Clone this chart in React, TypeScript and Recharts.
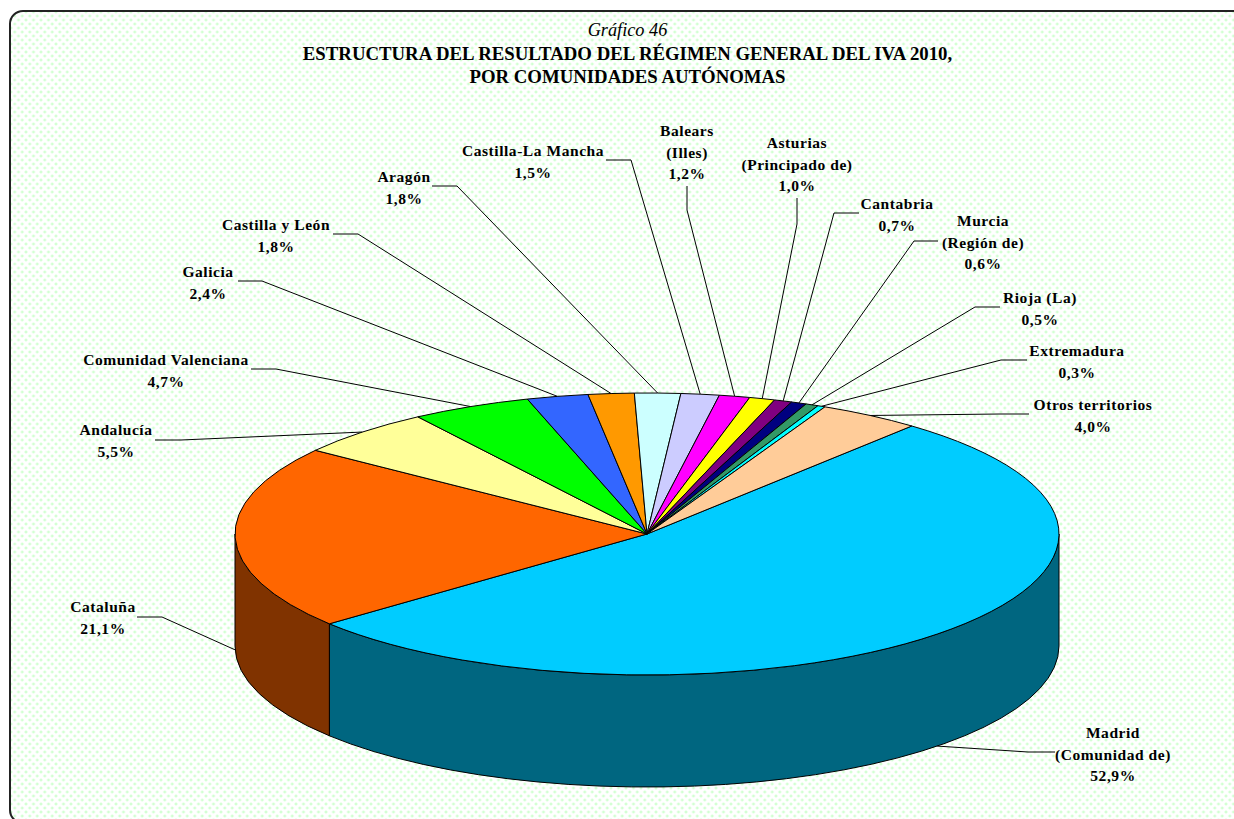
import React from 'react';
import { PieChart, Pie } from 'recharts';

const regions = [
  'Madrid', 'Cataluña', 'Andalucía', 'Comunidad Valenciana', 'Galicia', 'Castilla y León', 'Aragón',
  'Castilla-La Mancha', 'Baleares', 'Asturias', 'Cantabria', 'Murcia', 'Rioja', 'Extremadura', 'Otros territorios',
];
const shares = [52.9, 21.1, 5.5, 4.7, 2.4, 1.8, 1.8, 1.5, 1.2, 1.0, 0.7, 0.6, 0.5, 0.3, 4.0];
const labelTexts = [
  ['Madrid', '(Comunidad de)'], ['Cataluña'], ['Andalucía'], ['Comunidad Valenciana'], ['Galicia'], ['Castilla y León'],
  ['Aragón'], ['Castilla-La Mancha'], ['Balears', '(Illes)'], ['Asturias', '(Principado de)'], ['Cantabria'],
  ['Murcia', '(Región de)'], ['Rioja (La)'], ['Extremadura'], ['Otros territorios'],
];
const topColors = [
  '#00CCFF', '#FF6600', '#FFFF99', '#00FF00', '#3366FF', '#FF9900', '#CCFFFF', '#CCCCFF',
  '#FF00FF', '#FFFF00', '#800080', '#000080', '#339966', '#00FFFF', '#FFCC99',
];
const wallColors = ['#006680', '#803300'];

// label centre x, first line centre y, then the leader: start and elbow
const labelPlaces = [
  [1113, 733, 1055, 752, 1028, 752],
  [103, 607, 137, 617, 162, 617],
  [116, 430, 155, 440, 181, 440],
  [166, 360, 251, 369, 276, 369],
  [208, 272, 238, 281, 262, 281],
  [276, 225, 333, 234, 358, 234],
  [404, 177, 432, 186, 457, 186],
  [533, 151, 606, 160, 631, 160],
  [687, 131, 687, 186, 687, 210],
  [797, 143, 797, 198, 797, 224],
  [897, 204, 859, 213, 834, 213],
  [983, 221, 938, 241, 914, 241],
  [1040, 298, 1000, 307, 975, 307],
  [1077, 351, 1027, 360, 1001, 360],
  [1093, 405, 1029, 414, 1000, 414],
];

const pieData = regions.map((name, i) => ({ name, value: shares[i], fill: topColors[i] }));
const wallData = regions.map((name, i) => ({ name, value: shares[i], fill: wallColors[i] || '#888888' }));

const CX = 647;
const CY = 534;
const RX = 412;
const RY = 141;
const DEPTH = 112;
const START = 50;

const onEllipse = (angle: number, drop = 0) => {
  const rad = (angle * Math.PI) / 180;
  return { x: CX + RX * Math.cos(rad), y: CY - RY * Math.sin(rad) + drop };
};

// eslint-disable-next-line @typescript-eslint/no-explicit-any
const TopSlice = ({ startAngle, endAngle, fill }: any) => {
  const a = onEllipse(startAngle);
  const b = onEllipse(endAngle);
  const large = startAngle - endAngle > 180 ? 1 : 0;
  return (
    <path
      d={`M${CX},${CY} L${a.x},${a.y} A${RX},${RY} 0 ${large} 1 ${b.x},${b.y} Z`}
      fill={fill}
      stroke="#000"
      strokeWidth={1}
    />
  );
};

// only the front half of the cake shows a side
// eslint-disable-next-line @typescript-eslint/no-explicit-any
const WallSlice = ({ startAngle, endAngle, fill }: any) => {
  const hi = Math.min(startAngle, 0);
  const lo = Math.max(endAngle, -180);
  if (hi <= lo) return null;
  const a = onEllipse(hi);
  const b = onEllipse(lo);
  const c = onEllipse(lo, DEPTH);
  const d = onEllipse(hi, DEPTH);
  return (
    <path
      d={`M${a.x},${a.y} A${RX},${RY} 0 0 1 ${b.x},${b.y} L${c.x},${c.y} A${RX},${RY} 0 0 0 ${d.x},${d.y} Z`}
      fill={fill}
      stroke="#000"
      strokeWidth={1}
    />
  );
};

// eslint-disable-next-line @typescript-eslint/no-explicit-any
const SliceLabel = ({ index, midAngle, value }: any) => {
  const [tx, ty, x1, y1, x2, y2] = labelPlaces[index];
  const inFront = Math.sin((midAngle * Math.PI) / 180) < 0;
  const end = onEllipse(midAngle, inFront ? DEPTH : 0);
  const lines = [...labelTexts[index], `${value.toFixed(1).replace('.', ',')}%`];
  return (
    <g>
      <polyline points={`${x1},${y1} ${x2},${y2} ${end.x},${end.y}`} fill="none" stroke="#000" strokeWidth={1} />
      {lines.map((line, i) => (
        <text
          key={line}
          x={tx}
          y={ty + i * 21.5 + 5}
          textAnchor="middle"
          fill="#000"
          style={{ fontFamily: '"Liberation Serif", serif', fontSize: 15.5, fontWeight: 700, letterSpacing: 0.55 }}
        >
          {line}
        </text>
      ))}
    </g>
  );
};

export default function App() {
  return (
    <div style={{ position: 'fixed', left: 0, top: 0, width: 1234, height: 819, overflow: 'hidden', background: '#fff' }}>
      <div
        style={{
          position: 'absolute',
          left: 9,
          top: 10,
          width: 1260,
          height: 814,
          boxSizing: 'border-box',
          border: '2px solid #222',
          borderRadius: 14,
          backgroundColor: '#fff',
          backgroundImage:
            'radial-gradient(circle, #d2ffd2 0.9px, transparent 1.9px), radial-gradient(circle, #d2ffd2 0.9px, transparent 1.9px)',
          backgroundSize: '7.5px 8px',
          backgroundPosition: '0 0, 3.75px 4px',
        }}
      />
      <div
        style={{
          position: 'absolute',
          left: 0,
          top: 18,
          width: 1255,
          textAlign: 'center',
          fontFamily: '"Liberation Serif", serif',
          color: '#000',
        }}
      >
        <div style={{ fontStyle: 'italic', fontSize: 18.3, lineHeight: '24px' }}>Gráfico 46</div>
        <div style={{ fontWeight: 700, fontSize: 18.8, lineHeight: '23px' }}>
          ESTRUCTURA DEL RESULTADO DEL RÉGIMEN GENERAL DEL IVA 2010,
        </div>
        <div style={{ fontWeight: 700, fontSize: 18.8, lineHeight: '23px' }}>POR COMUNIDADES AUTÓNOMAS</div>
      </div>
      <div style={{ position: 'absolute', left: 0, top: 0 }}>
        <PieChart width={1234} height={819} margin={{ top: 0, right: 0, bottom: 0, left: 0 }}>
          <Pie
            data={wallData}
            dataKey="value"
            cx={CX}
            cy={CY}
            outerRadius={RX}
            startAngle={START}
            endAngle={START - 360}
            paddingAngle={0}
            shape={WallSlice}
            isAnimationActive={false}
          />
          <Pie
            data={pieData}
            dataKey="value"
            cx={CX}
            cy={CY}
            outerRadius={RX}
            startAngle={START}
            endAngle={START - 360}
            paddingAngle={0}
            shape={TopSlice}
            label={SliceLabel}
            labelLine={false}
            isAnimationActive={false}
          />
        </PieChart>
      </div>
    </div>
  );
}
